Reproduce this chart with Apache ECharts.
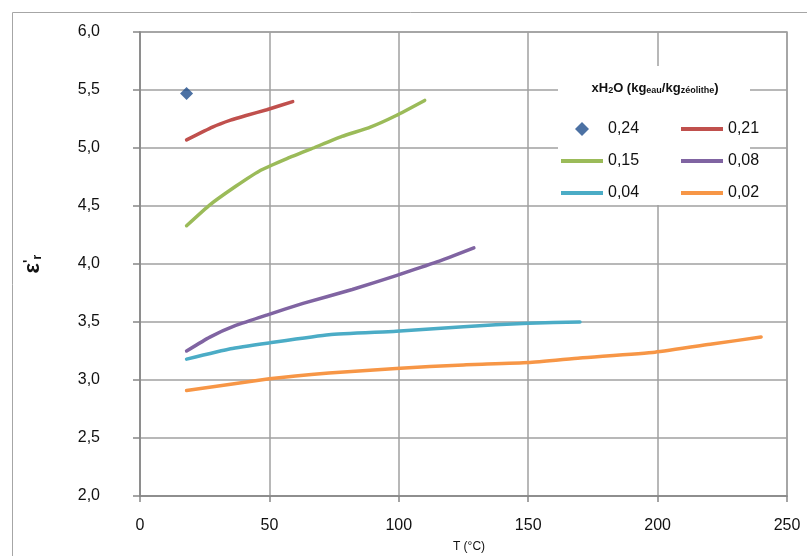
<!DOCTYPE html>
<html>
<head>
<meta charset="utf-8">
<script src="https://cdn.jsdelivr.net/npm/echarts@6/dist/echarts.min.js"></script>
<style>html,body{margin:0;padding:0;background:#fff}#c{width:807px;height:556px}</style>
</head>
<body>
<div id="c"></div>
<script>
// Series names
var names = ['0,24', '0,21', '0,15', '0,08', '0,04', '0,02'];
var colors = ['#1f4e8c', '#c0504d', '#9bbb59', '#8064a2', '#4bacc6', '#f79646'];
// x=0.24 (single point)
var t024 = [18];
var v024 = [5.47];
// x=0.21
var t021 = [18, 28, 35, 41, 49, 59];
var v021 = [5.07, 5.18, 5.24, 5.28, 5.33, 5.40];
// x=0.15
var t015 = [18, 27, 37, 46, 57, 67, 78, 89, 99, 110];
var v015 = [4.33, 4.51, 4.67, 4.80, 4.91, 5.00, 5.10, 5.18, 5.28, 5.41];
// x=0.08
var t008 = [18, 27, 37, 49, 63, 82, 99, 115, 129];
var v008 = [3.25, 3.37, 3.47, 3.56, 3.66, 3.78, 3.90, 4.02, 4.14];
// x=0.04
var t004 = [18, 35, 50, 73, 99, 125, 150, 170];
var v004 = [3.18, 3.27, 3.32, 3.39, 3.42, 3.46, 3.49, 3.50];
// x=0.02
var t002 = [18, 50, 73, 99, 125, 150, 170, 199, 221, 240];
var v002 = [2.91, 3.01, 3.06, 3.10, 3.13, 3.15, 3.19, 3.24, 3.31, 3.37];
// Axis ticks
var xTicks = [0, 50, 100, 150, 200, 250];
var yTicks = [2.0, 2.5, 3.0, 3.5, 4.0, 4.5, 5.0, 5.5, 6.0];

function pairs(t, v) { return t.map(function (x, i) { return [x, v[i]]; }); }
var FONT = "'Liberation Sans', Arial, sans-serif";
var LINE_ICON = 'path://M0,0 L42,0 L42,4 L0,4 Z';
var DIAMOND_ICON = 'path://M6,0 L12,6 L6,12 L0,6 Z';

var lineData = [pairs(t021, v021), pairs(t015, v015), pairs(t008, v008), pairs(t004, v004), pairs(t002, v002)];
var series = [{
  name: names[0], type: 'scatter', data: pairs(t024, v024), symbol: 'diamond', symbolSize: 13,
  itemStyle: { color: colors[0] }, z: 3
}];
lineData.forEach(function (d, i) {
  series.push({
    name: names[i + 1], type: 'line', data: d, smooth: 0.15, showSymbol: false, symbol: 'none',
    lineStyle: { color: colors[i + 1], width: 3.5, cap: 'round', join: 'round' }, itemStyle: { color: colors[i + 1] }, z: 2
  });
});

function legendItem(i) {
  return { name: names[i], icon: i === 0 ? DIAMOND_ICON : LINE_ICON };
}
var legendBase = {
  orient: 'vertical', top: 116, itemWidth: 42, itemHeight: 14, itemGap: 16, symbolKeepAspect: true,
  textStyle: { fontSize: 16, color: '#111', fontFamily: FONT }
};

var chart = echarts.init(document.getElementById('c'), null, { renderer: 'canvas' });
chart.setOption({
  animation: false,
  backgroundColor: '#fff',
  grid: { left: 140, right: 20, top: 32, bottom: 60, show: true, borderColor: '#a0a0a0', borderWidth: 1.5, backgroundColor: 'transparent' },
  xAxis: {
    type: 'value', min: xTicks[0], max: xTicks[xTicks.length - 1], interval: 50,
    axisLine: { show: true, lineStyle: { color: '#868686', width: 1.5 } },
    axisTick: { show: true, inside: false, length: 6, lineStyle: { color: '#868686', width: 1.5 } },
    axisLabel: { margin: 22, fontSize: 16, color: '#111', fontFamily: FONT },
    splitLine: { show: true, lineStyle: { color: '#a0a0a0', width: 1.5 } }
  },
  yAxis: {
    type: 'value', min: yTicks[0], max: yTicks[yTicks.length - 1], interval: 0.5,
    axisLine: { show: true, lineStyle: { color: '#868686', width: 1.5 } },
    axisTick: { show: true, inside: false, length: 7, lineStyle: { color: '#868686', width: 1.5 } },
    axisLabel: { margin: 40, fontSize: 16, color: '#111', fontFamily: FONT,
      formatter: function (v) { return v.toFixed(1).replace('.', ','); } },
    splitLine: { show: true, lineStyle: { color: '#a0a0a0', width: 1.5 } }
  },
  legend: [
    Object.assign({}, legendBase, { left: 556, data: [legendItem(0), legendItem(2), legendItem(4)] }),
    Object.assign({}, legendBase, { left: 676, data: [legendItem(1), legendItem(3), legendItem(5)] })
  ],
  graphic: [
    { type: 'rect', z: 1, silent: true, shape: { x: 12.5, y: 12.5, width: 900, height: 700 },
      style: { fill: 'none', stroke: '#a6a6a6', lineWidth: 1 } },
    { type: 'rect', z: 1, silent: true, shape: { x: 558, y: 66, width: 192, height: 139 },
      style: { fill: '#fff', stroke: 'none' } },
    { type: 'text', z: 5, silent: true, x: 655, y: 88,
      style: {
        text: '{b|xH}{s|2}{b|O (kg}{s|eau}{b|/kg}{s|zéolithe}{b|)}',
        align: 'center', verticalAlign: 'middle',
        rich: {
          b: { fontSize: 13, fontWeight: 'bold', fontFamily: FONT, fill: '#111', lineHeight: 14, verticalAlign: 'bottom' },
          s: { fontSize: 9, fontWeight: 'bold', fontFamily: FONT, fill: '#111', lineHeight: 6, verticalAlign: 'bottom' }
        }
      } },
    { type: 'text', z: 5, silent: true, x: 469, y: 547,
      style: { text: 'T (°C)', align: 'center', verticalAlign: 'middle', fontSize: 12, fontFamily: FONT, fill: '#111' } },
    { type: 'text', z: 5, silent: true, x: 33, y: 264, rotation: Math.PI / 2,
      style: {
        text: '{e|ε}{p|\'}{r|r}', align: 'center', verticalAlign: 'middle',
        rich: {
          e: { fontSize: 22, fontWeight: 'bold', fontFamily: FONT, fill: '#111', lineHeight: 22, verticalAlign: 'middle' },
          p: { fontSize: 14, fontWeight: 'bold', fontFamily: FONT, fill: '#111', lineHeight: 22, verticalAlign: 'top', padding: [0, 0, 8, 0] },
          r: { fontSize: 13, fontWeight: 'bold', fontFamily: FONT, fill: '#111', lineHeight: 22, verticalAlign: 'bottom', padding: [8, 0, 0, 0] }
        }
      } }
  ],
  series: series
});
</script>
</body>
</html>
